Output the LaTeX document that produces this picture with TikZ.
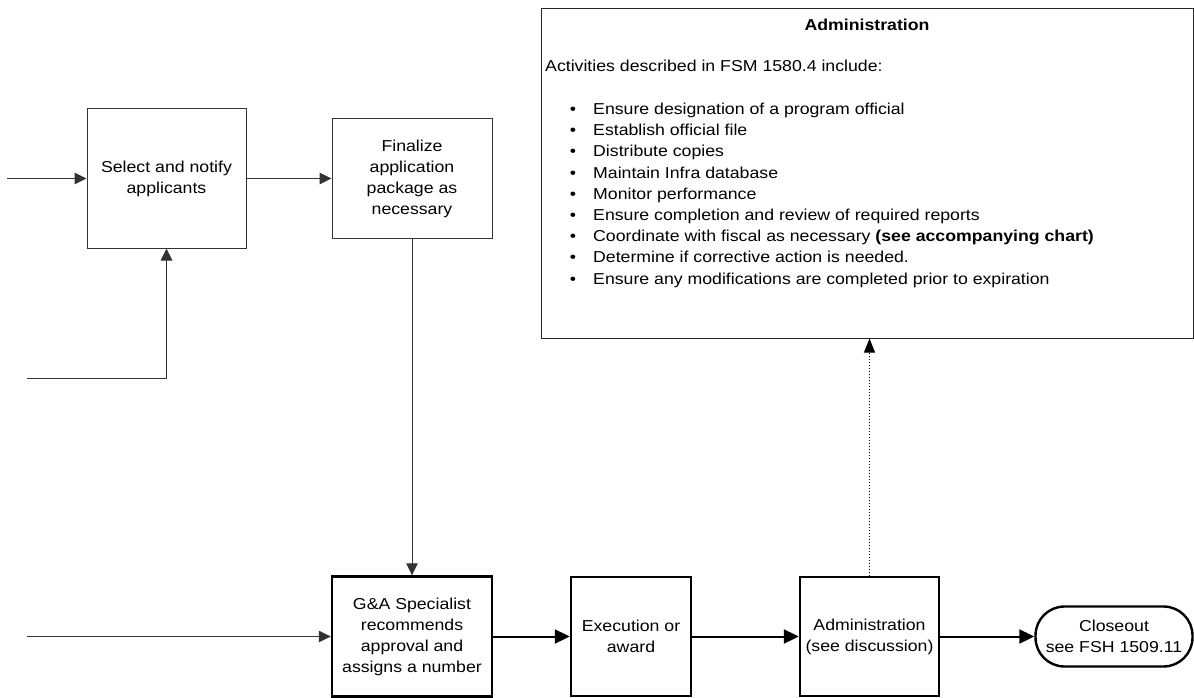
\documentclass[tikz,border=0pt]{standalone}
\usepackage{fontspec}
\setmainfont{Liberation Sans}[FakeStretch=1.12]
\usetikzlibrary{arrows.meta}
\tikzset{
  thinbox/.style={draw=black!80, line width=1pt, rectangle, inner sep=0pt, align=center, font=\fontsize{15.8}{21}\selectfont},
  thickbox/.style={draw=black, line width=2.4pt, rectangle, inner sep=0pt, align=center, font=\fontsize{15.8}{21}\selectfont},
  txt/.style={inner sep=0pt, font=\fontsize{15.8}{21}\selectfont},
  thinarrow/.style={draw=black!80, line width=1pt, -{Triangle[length=12pt,width=11.5pt]}},
  thickarrow/.style={draw=black, line width=2pt, -{Triangle[length=15pt,width=14pt]}},
  dotarrow/.style={draw=black, line width=1pt, dash pattern=on 1pt off 2pt, -{Triangle[length=14pt,width=11pt]}}
}
\begin{document}
\begin{tikzpicture}[x=1pt,y=-1pt]
\useasboundingbox (0,0) rectangle (1194,698);
\fill[white] (0,0) rectangle (1194,698);

% top flow
\node[thinbox, minimum width=159pt, minimum height=139pt] (sel) at (166.5,178.5) {Select and notify\\applicants};
\node[thinbox, minimum width=160pt, minimum height=119pt] (fin) at (412,178.5) {Finalize\\application\\package as\\necessary};

% big administration box
\node[draw=black!85, line width=1pt, rectangle, inner sep=0pt, minimum width=652pt, minimum height=329pt] (big) at (867,173.5) {};
\node[txt, anchor=base, font=\fontsize{15.8}{21}\selectfont\bfseries] (title) at (867,30.5) {Administration};
\node[txt, anchor=base west] (intro) at (545,71.5) {Activities described in FSM 1580.4 include:};
\foreach \t [count=\i] in {
  {Ensure designation of a program official},
  {Establish official file},
  {Distribute copies},
  {Maintain Infra database},
  {Monitor performance},
  {Ensure completion and review of required reports},
  {Coordinate with fiscal as necessary \textbf{(see accompanying chart)}},
  {Determine if corrective action is needed.},
  {Ensure any modifications are completed prior to expiration}}{
  \node[txt, anchor=base] (bul\i) at (573,114.5+21.2*\i-21.2) {\textbullet};
  \node[txt, anchor=base west] (item\i) at (593,114.5+21.2*\i-21.2) {\t};
}

% bottom flow
\node[thickbox, minimum width=160pt, minimum height=120pt] (ga) at (412,636.5) {G\&A Specialist\\recommends\\approval and\\assigns a number};
\node[thickbox, minimum width=120pt, minimum height=119pt] (exe) at (631,636.5) {Execution or\\award};
\node[thickbox, minimum width=139pt, minimum height=119pt] (adm) at (869.5,636.5) {Administration\\(see discussion)};
\node[thickbox, minimum width=157pt, minimum height=60pt, rounded corners=29pt] (clo) at (1114,636.5) {Closeout\\see FSH 1509.11};

% free ends
\coordinate (in1) at (7,178.5);
\coordinate (in2) at (27,378);
\coordinate (in3) at (27,636.5);

% connectors
\draw[thinarrow] (in1) -- (sel.west);
\draw[thinarrow] (sel.east) -- (fin.west);
\draw[thinarrow] (in2) -| (sel.south);
\draw[thinarrow] (fin.south) -- (ga.north);
\draw[thinarrow] (in3) -- (ga.west);
\draw[thickarrow] (ga.east) -- (exe.west);
\draw[thickarrow] (exe.east) -- (adm.west);
\draw[thickarrow] (adm.east) -- (clo.west);
\draw[dotarrow] (adm.north) -- (adm.north |- big.south);
\end{tikzpicture}
\end{document}
